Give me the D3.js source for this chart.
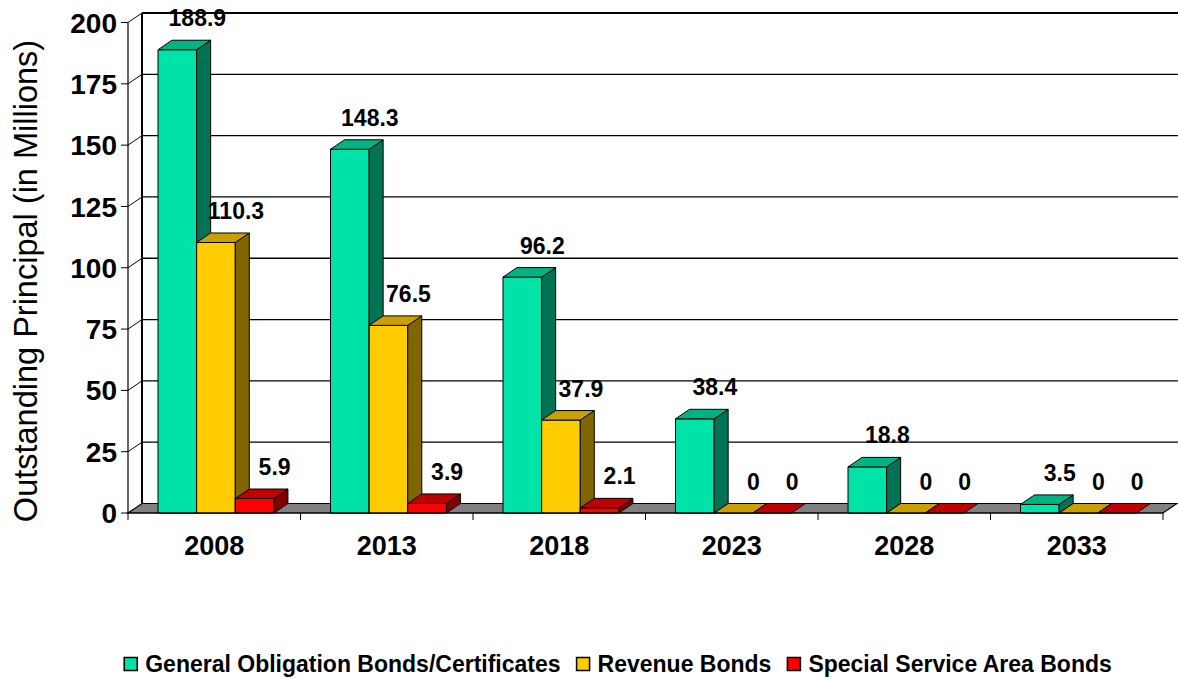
<!DOCTYPE html>
<html>
<head>
<meta charset="utf-8">
<script src="https://cdn.jsdelivr.net/npm/d3@7"></script>
<style>
  html, body { margin: 0; padding: 0; background: #fff; }
  svg { display: block; font-family: "Liberation Sans", Arial, sans-serif; }
</style>
</head>
<body>
<svg id="chart" width="1178" height="679"></svg>
<script>
// Outstanding principal by year and bond type (millions)
const years = ["2008", "2013", "2018", "2023", "2028", "2033"];
const seriesNames = ["General Obligation Bonds/Certificates", "Revenue Bonds", "Special Service Area Bonds"];
const generalObligation = [188.9, 148.3, 96.2, 38.4, 18.8, 3.5];
const revenueBonds = [110.3, 76.5, 37.9, 0, 0, 0];
const specialServiceArea = [5.9, 3.9, 2.1, 0, 0, 0];
const yTicks = [0, 25, 50, 75, 100, 125, 150, 175, 200];

const seriesValues = [generalObligation, revenueBonds, specialServiceArea];
const palette = [
  { front: "#00E3A8", top: "#00B383", side: "#007355" },
  { front: "#FFCC00", top: "#C9A000", side: "#806600" },
  { front: "#FF0000", top: "#C00000", side: "#800000" }
];

const svg = d3.select("#chart");

// 3D frame geometry: front plane and the depth offset to the back wall
const frontLeft = 128, frontRight = 1163;
const depth = { x: 14, y: -9.5 };
const yFront = d3.scaleLinear().domain([0, 200]).range([513, 22.5]);
const yBack = v => yFront(v) + depth.y;
const floorY = yFront(0);

const xGroup = d3.scaleBand().domain(years).range([frontLeft, frontRight]).padding(0);
const bw = xGroup.bandwidth();
const xSeries = d3.scaleBand().domain(d3.range(3))
  .range([0.174 * bw, (0.174 + 3 * 0.224) * bw]).padding(0);

// Back wall gridlines
const wall = svg.append("g");
wall.selectAll("line.grid").data(yTicks.filter(t => t > 0)).join("line")
  .attr("x1", frontLeft + depth.x).attr("x2", 1178)
  .attr("y1", d => yBack(d)).attr("y2", d => yBack(d))
  .attr("stroke", "#000").attr("stroke-width", d => d === 200 ? 2 : 1.3);

// Left side wall: slanted tick continuations and back edge
wall.selectAll("line.side").data(yTicks.filter(t => t > 0)).join("line")
  .attr("x1", frontLeft).attr("y1", d => yFront(d))
  .attr("x2", frontLeft + depth.x).attr("y2", d => yBack(d))
  .attr("stroke", "#000").attr("stroke-width", 1);
wall.append("line")
  .attr("x1", frontLeft + depth.x).attr("x2", frontLeft + depth.x)
  .attr("y1", yBack(200)).attr("y2", yBack(0))
  .attr("stroke", "#000").attr("stroke-width", 2);

// Floor
svg.append("path")
  .attr("d", d3.line()([
    [frontLeft, floorY], [frontRight, floorY],
    [frontRight + depth.x, floorY + depth.y], [frontLeft + depth.x, floorY + depth.y]
  ]) + "Z")
  .attr("fill", "#808080").attr("stroke", "#000").attr("stroke-width", 1.2);

// Bars as boxes: front face, top face, right side
const bars = svg.append("g");
years.forEach((yr, gi) => {
  seriesValues.forEach((vals, si) => {
    const v = vals[gi];
    const x0 = xGroup(yr) + xSeries(si);
    const x1 = x0 + xSeries.bandwidth();
    const yt = yFront(v);
    const c = palette[si];
    const g = bars.append("g").attr("stroke", "#000").attr("stroke-width", 1).attr("stroke-linejoin", "round");
    if (v > 0) {
      g.append("rect").attr("x", x0).attr("y", yt).attr("width", x1 - x0).attr("height", floorY - yt)
        .attr("fill", c.front);
      g.append("path").attr("d", d3.line()([[x1, yt], [x1 + depth.x, yt + depth.y],
        [x1 + depth.x, floorY + depth.y], [x1, floorY]]) + "Z").attr("fill", c.side);
    }
    g.append("path").attr("d", d3.line()([[x0, yt], [x1, yt],
      [x1 + depth.x, yt + depth.y], [x0 + depth.x, yt + depth.y]]) + "Z").attr("fill", c.top);
  });
});

// Value labels above each box
const labels = svg.append("g").attr("font-weight", "bold").attr("font-size", 23)
  .attr("text-anchor", "middle").attr("fill", "#000");
years.forEach((yr, gi) => {
  seriesValues.forEach((vals, si) => {
    const v = vals[gi];
    const cx = xGroup(yr) + xSeries(si) + xSeries.bandwidth() / 2 + depth.x + 6;
    labels.append("text").attr("x", cx).attr("y", yBack(v) - 22).attr("dy", "0.35em").text(v);
  });
});

// Front value axis
const yAxis = svg.append("g");
yAxis.append("line").attr("x1", frontLeft).attr("x2", frontLeft)
  .attr("y1", yFront(200)).attr("y2", floorY).attr("stroke", "#000").attr("stroke-width", 1.2);
yAxis.selectAll("line.tick").data(yTicks).join("line")
  .attr("x1", frontLeft - 7).attr("x2", frontLeft)
  .attr("y1", d => yFront(d)).attr("y2", d => yFront(d)).attr("stroke", "#000");
yAxis.selectAll("text").data(yTicks).join("text")
  .attr("x", 117).attr("y", d => yFront(d)).attr("dy", "0.36em")
  .attr("text-anchor", "end").attr("font-weight", "bold").attr("font-size", 28)
  .text(d => d);

// Category axis along the floor's front edge
const xAxis = svg.append("g");
xAxis.append("line").attr("x1", frontLeft).attr("x2", frontRight)
  .attr("y1", floorY).attr("y2", floorY).attr("stroke", "#000").attr("stroke-width", 1.2);
xAxis.selectAll("line.tick").data(years.concat(["end"])).join("line")
  .attr("x1", (d, i) => frontLeft + i * bw).attr("x2", (d, i) => frontLeft + i * bw)
  .attr("y1", floorY).attr("y2", floorY + 7).attr("stroke", "#000");
xAxis.selectAll("text").data(years).join("text")
  .attr("x", d => xGroup(d) + bw / 2).attr("y", 545).attr("dy", "0.36em")
  .attr("text-anchor", "middle").attr("font-weight", "bold").attr("font-size", 27)
  .text(d => d);

// Axis title
svg.append("text")
  .attr("transform", "translate(37,281) rotate(-90)")
  .attr("text-anchor", "middle").attr("font-size", 32.5)
  .text("Outstanding Principal (in Millions)");

// Legend
const legend = svg.append("g").attr("transform", "translate(0,664)");
const legendFont = 23;
let lx = 0;
const items = [];
seriesNames.forEach((name, i) => {
  const it = legend.append("g");
  it.append("rect").attr("x", 0).attr("y", -6.5).attr("width", 13).attr("height", 13)
    .attr("fill", palette[i].front).attr("stroke", "#000").attr("stroke-width", 1.5);
  const t = it.append("text").attr("x", 21).attr("dy", "0.36em")
    .attr("font-weight", "bold").attr("font-size", legendFont).text(name);
  const w = 21 + t.node().getComputedTextLength();
  items.push({ it, w });
});
const gap = 16;
const total = d3.sum(items, d => d.w) + gap * (items.length - 1);
lx = 618 - total / 2;
items.forEach(d => { d.it.attr("transform", `translate(${lx},0)`); lx += d.w + gap; });
</script>
</body>
</html>
